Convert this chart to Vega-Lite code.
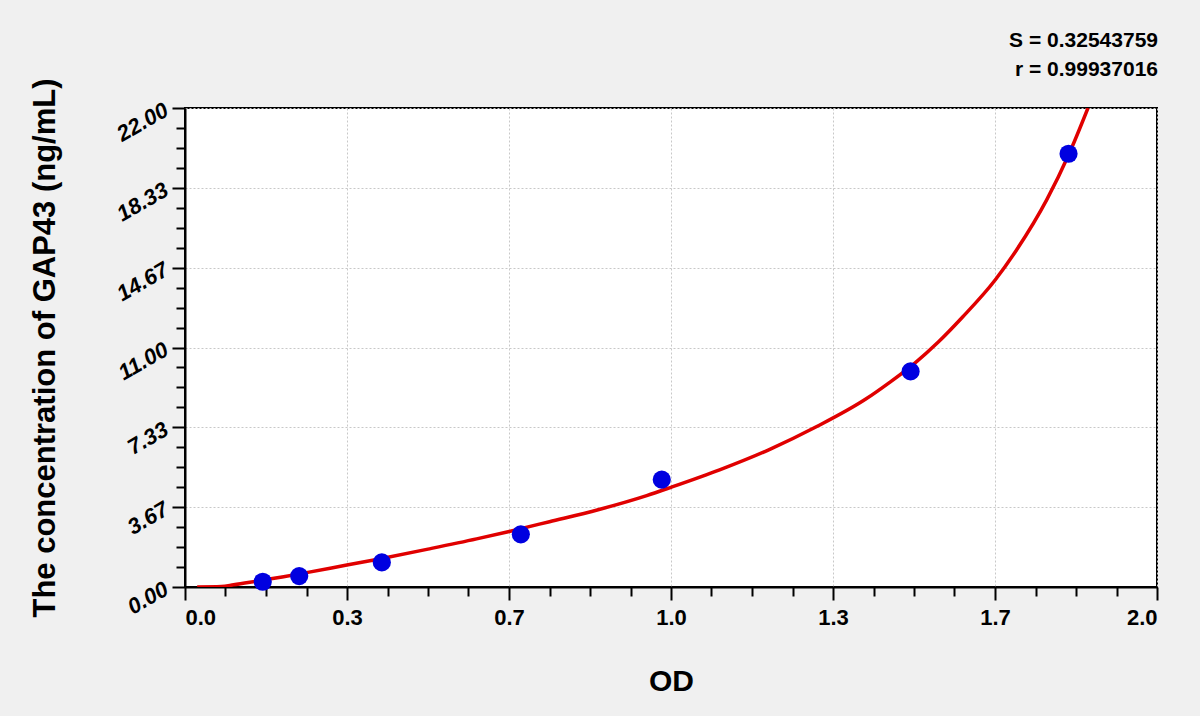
{
  "$schema": "https://vega.github.io/schema/vega-lite/v6.json",
  "width": 972,
  "height": 479,
  "autosize": {"type": "none"},
  "padding": {"left": 185, "top": 108, "right": 43, "bottom": 129},
  "background": "#f0f0f0",
  "config": {
    "font": "Liberation Sans",
    "view": {"fill": "white", "stroke": "black", "strokeWidth": 2},
    "axis": {"domainColor": "black", "domainWidth": 2, "tickColor": "black", "tickWidth": 2}
  },
  "title": {
    "text": ["S = 0.32543759", "r = 0.99937016"],
    "anchor": "end",
    "fontSize": 21,
    "fontWeight": "bold",
    "color": "black",
    "lineHeight": 29,
    "offset": -2
  },
  "datasets": {
    "curve": [
      {"od": 0.025, "conc": 0.0},
      {"od": 0.075, "conc": 0.02},
      {"od": 0.1, "conc": 0.1},
      {"od": 0.15, "conc": 0.28},
      {"od": 0.2, "conc": 0.46},
      {"od": 0.25, "conc": 0.66},
      {"od": 0.333, "conc": 1.01},
      {"od": 0.4, "conc": 1.29},
      {"od": 0.5, "conc": 1.74},
      {"od": 0.6, "conc": 2.21},
      {"od": 0.665, "conc": 2.54},
      {"od": 0.75, "conc": 3.0},
      {"od": 0.85, "conc": 3.55},
      {"od": 0.95, "conc": 4.2},
      {"od": 1.0, "conc": 4.58},
      {"od": 1.1, "conc": 5.38},
      {"od": 1.2, "conc": 6.29},
      {"od": 1.3, "conc": 7.37},
      {"od": 1.4, "conc": 8.62},
      {"od": 1.45, "conc": 9.4},
      {"od": 1.5, "conc": 10.25},
      {"od": 1.55, "conc": 11.25},
      {"od": 1.6, "conc": 12.4},
      {"od": 1.667, "conc": 14.1},
      {"od": 1.711, "conc": 15.48},
      {"od": 1.773, "conc": 17.78},
      {"od": 1.818, "conc": 19.84},
      {"od": 1.858, "conc": 22.0}
    ],
    "points": [
      {"od": 0.16, "conc": 0.24},
      {"od": 0.235, "conc": 0.5},
      {"od": 0.405, "conc": 1.13},
      {"od": 0.691, "conc": 2.42},
      {"od": 0.981, "conc": 4.93},
      {"od": 1.493, "conc": 9.9},
      {"od": 1.818, "conc": 19.9}
    ]
  },
  "layer": [
    {
      "data": {"name": "curve"},
      "mark": {"type": "line", "color": "#e00000", "strokeWidth": 3.5, "clip": true, "interpolate": "monotone"},
      "encoding": {
        "x": {
          "field": "od", "type": "quantitative",
          "scale": {"domain": [0, 2], "nice": false, "zero": false},
          "axis": {
            "title": "OD",
            "titleFontSize": 30, "titleFontWeight": "bold", "titleColor": "black",
            "titleY": 94, "titleBaseline": "middle",
            "values": [0, 0.33333, 0.66667, 1, 1.33333, 1.66667, 2],
            "format": ".1f",
            "labelFontSize": 22, "labelFontWeight": "bold", "labelColor": "black",
            "labelPadding": 7, "tickSize": 13,
            "grid": true, "gridColor": "#c8c8c8", "gridDash": [2, 2], "gridWidth": 1
          }
        },
        "y": {
          "field": "conc", "type": "quantitative",
          "scale": {"domain": [0, 22], "nice": false, "zero": false},
          "axis": {
            "title": "The concentration of GAP43 (ng/mL)",
            "titleFontSize": 31, "titleFontWeight": "bold", "titleColor": "black",
            "titleX": -140, "titleBaseline": "middle",
            "values": [0, 3.66667, 7.33333, 11, 14.66667, 18.33333, 22],
            "format": ".2f",
            "labelFontSize": 22, "labelFontWeight": "bold", "labelFontStyle": "italic",
            "labelColor": "black", "labelAngle": -30, "labelAlign": "right",
            "labelBaseline": "middle", "labelPadding": 6, "tickSize": 13,
            "grid": true, "gridColor": "#c8c8c8", "gridDash": [2, 2], "gridWidth": 1
          }
        }
      }
    },
    {
      "data": {"name": "points"},
      "mark": {"type": "circle", "color": "#0000e0", "opacity": 1, "size": 330},
      "encoding": {
        "x": {
          "field": "od", "type": "quantitative",
          "axis": {
            "orient": "bottom", "title": null, "labels": false, "grid": false, "domain": false,
            "values": [0.08333, 0.16667, 0.25, 0.41667, 0.5, 0.58333, 0.75, 0.83333, 0.91667, 1.08333, 1.16667, 1.25, 1.41667, 1.5, 1.58333, 1.75, 1.83333, 1.91667],
            "tickSize": 9
          }
        },
        "y": {
          "field": "conc", "type": "quantitative",
          "axis": {
            "orient": "left", "title": null, "labels": false, "grid": false, "domain": false,
            "values": [0.91667, 1.83333, 2.75, 4.58333, 5.5, 6.41667, 8.25, 9.16667, 10.08333, 11.91667, 12.83333, 13.75, 15.58333, 16.5, 17.41667, 19.25, 20.16667, 21.08333],
            "tickSize": 9
          }
        }
      }
    }
  ],
  "resolve": {"axis": {"x": "independent", "y": "independent"}}
}
